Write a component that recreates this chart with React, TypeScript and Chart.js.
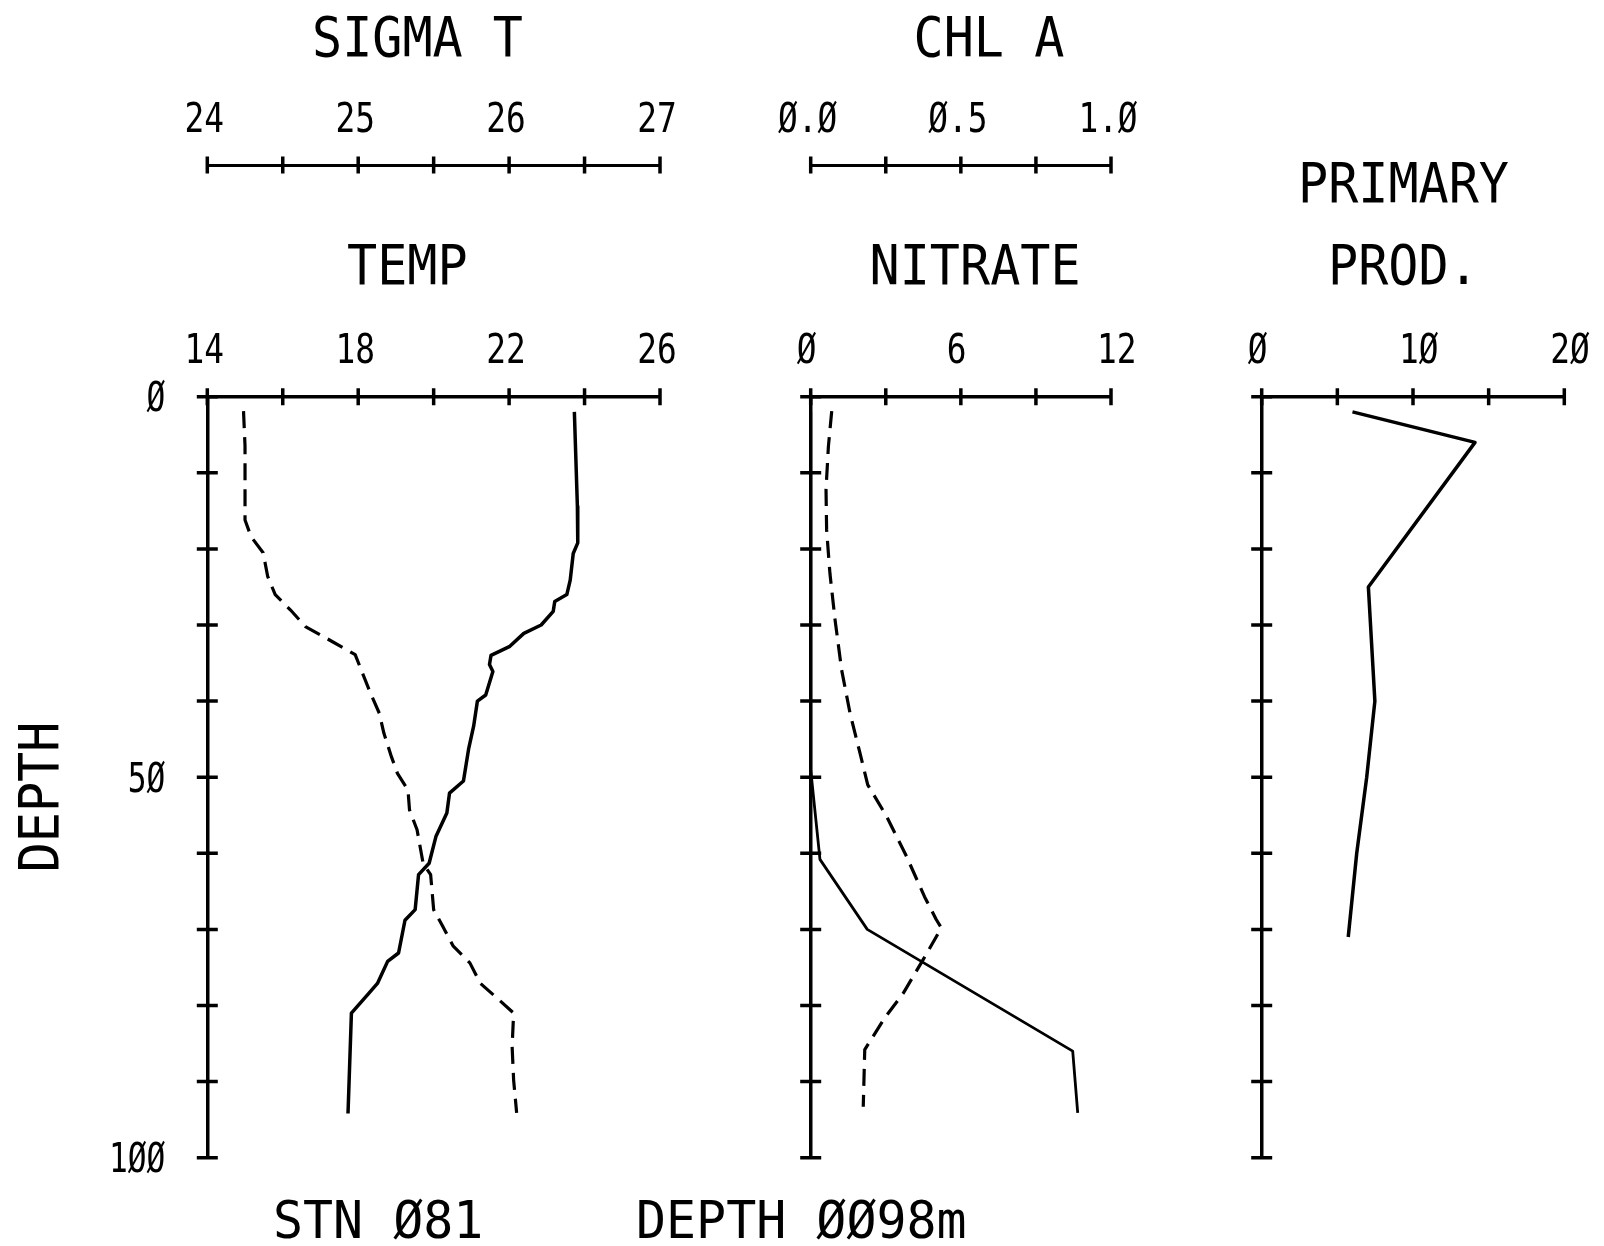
import React, { useEffect, useRef } from 'react';
import { Chart, registerables } from 'chart.js';

Chart.register(...registerables);

// ---------------- data (depth in m) ----------------
const tempDepths = [2, 14.4, 19.2, 20.6, 24.1, 26.0, 26.9, 28.2, 30.0, 31.1, 32.8, 34.0, 35.2, 36.1, 39.2, 40.0, 43.3, 46.2, 50.5, 52.1, 54.7, 57.8, 61.3, 62.8, 67.4, 68.8, 73.1, 74.2, 77.1, 78.4, 81.0, 94.2];
const tempValues = [23.73, 23.81, 23.82, 23.70, 23.62, 23.53, 23.21, 23.17, 22.85, 22.39, 22.02, 21.52, 21.48, 21.57, 21.38, 21.16, 21.06, 20.93, 20.79, 20.42, 20.35, 20.06, 19.88, 19.60, 19.51, 19.24, 19.07, 18.78, 18.51, 18.28, 17.82, 17.73];

const sigmaDepths = [1.9, 6.5, 16.2, 18.4, 20.5, 23.6, 26.0, 28.0, 30.2, 32.2, 33.9, 35.4, 38.9, 41.6, 44.2, 47.3, 49.5, 51.7, 54.3, 56.9, 61.3, 62.8, 67.4, 69.6, 72.2, 74.4, 77.1, 79.2, 81.0, 85.4, 89.8, 94.1];
const sigmaValues = [24.24, 24.25, 24.25, 24.29, 24.37, 24.40, 24.45, 24.55, 24.65, 24.83, 24.98, 25.01, 25.08, 25.14, 25.17, 25.22, 25.26, 25.33, 25.34, 25.39, 25.43, 25.48, 25.50, 25.56, 25.63, 25.74, 25.81, 25.93, 26.03, 26.02, 26.03, 26.05];

const chlDepths = [1.9, 6.5, 12.2, 17.5, 23.2, 29.3, 35.9, 41.6, 46.8, 51.0, 55.1, 60.4, 65.7, 68.7, 69.8, 74.0, 78.4, 81.6, 85.8, 93.3];
const chlValues = [0.070, 0.059, 0.051, 0.053, 0.064, 0.081, 0.103, 0.131, 0.164, 0.190, 0.252, 0.319, 0.379, 0.418, 0.435, 0.374, 0.308, 0.247, 0.180, 0.175];

const nitrateDepths = [2, 49, 50.3, 60.8, 70.0, 86.0, 94.1];
const nitrateValues = [0, 0, 0.04, 0.37, 2.26, 10.47, 10.67];

const ppDepths = [2, 6, 25, 40, 50, 60, 71];
const ppValues = [6.0, 14.1, 7.05, 7.48, 6.94, 6.28, 5.72];

// ---------------- tick labels ----------------
const depthTickLabels = [0, 50, 100];
const tempTickLabels = [14, 18, 22, 26];
const sigmaTickLabels = [24, 25, 26, 27];
const nitrateTickLabels = [0, 6, 12];
const chlTickLabels = [0, 0.5, 1.0];
const ppTickLabels = [0, 10, 20];

// ---------------- layout constants ----------------
const PAGE_W = 1604;
const PAGE_H = 1246;
const AREA_TOP = 396.7;
const AREA_BOTTOM = 1157.7;
const TOP_AXIS_Y = 165;
const FONT = '"DejaVu Sans Mono", "Liberation Mono", monospace';
const CAP = 0.729;
const AXIS_W = 3.5;

const slashZero = (s: string) => s.replace(/0/g, 'Ø');
const fmtInt = (v: number) => slashZero(String(v));
const fmtOne = (v: number) => slashZero(v.toFixed(1));

type TextItem = { text: string; x: number; y: number; size: number; sx: number; align: CanvasTextAlign; rotate?: number };
type AxisSpec = { min: number; max: number; step: number; labels: number[]; fmt: (v: number) => string; align: CanvasTextAlign; dx: number };
type Series = { depths: number[]; values: number[]; axis: 'x' | 'x2'; dashed: boolean; width: number };
type PanelSpec = {
  canvasLeft: number; canvasWidth: number; areaLeft: number; areaRight: number;
  main: AxisSpec; top?: AxisSpec; series: Series[]; depthLabels: boolean; texts: TextItem[];
};

function drawText(ctx: CanvasRenderingContext2D, t: TextItem, offX: number) {
  ctx.save();
  ctx.translate(t.x - offX, t.y);
  if (t.rotate) ctx.rotate(t.rotate);
  ctx.scale(t.sx, 1);
  ctx.font = `${t.size}px ${FONT}`;
  ctx.textAlign = t.align;
  ctx.textBaseline = 'alphabetic';
  ctx.fillStyle = '#000';
  ctx.fillText(t.text, 0, (t.size * CAP) / 2);
  ctx.restore();
}

function makeDecor(spec: PanelSpec) {
  return {
    id: 'decor',
    afterDraw(chart: any) {
      const ctx: CanvasRenderingContext2D = chart.ctx;
      ctx.save();
      ctx.strokeStyle = '#000';
      ctx.lineWidth = AXIS_W;
      ctx.lineCap = 'butt';
      // crossing tick marks on top axes
      for (const id of ['x', 'x2']) {
        const s = chart.scales[id];
        if (!s) continue;
        const y = s.bottom;
        ctx.beginPath();
        for (const t of s.ticks) {
          const px = s.getPixelForValue(t.value);
          ctx.moveTo(px, y - 8.5);
          ctx.lineTo(px, y + 8.5);
        }
        ctx.stroke();
      }
      // crossing tick marks on depth axis
      const ys = chart.scales.y;
      ctx.beginPath();
      for (const t of ys.ticks) {
        const py = ys.getPixelForValue(t.value);
        ctx.moveTo(ys.right - 10.5, py);
        ctx.lineTo(ys.right + 10.5, py);
      }
      ctx.stroke();
      ctx.restore();

      // tick labels
      const axes: [string, AxisSpec | undefined][] = [['x', spec.main], ['x2', spec.top]];
      for (const [id, ax] of axes) {
        if (!ax) continue;
        const s = chart.scales[id];
        for (const v of ax.labels) {
          drawText(ctx, { text: ax.fmt(v), x: s.getPixelForValue(v) + ax.dx, y: s.bottom - 48, size: 40, sx: 0.82, align: ax.align }, 0);
        }
      }
      if (spec.depthLabels) {
        for (const v of depthTickLabels) {
          drawText(ctx, { text: fmtInt(v), x: ys.right - 42, y: ys.getPixelForValue(v), size: 40, sx: 0.78, align: 'right' }, 0);
        }
      }
      // titles and captions
      for (const t of spec.texts) drawText(ctx, t, spec.canvasLeft);
    },
  };
}

function buildConfig(spec: PanelSpec): any {
  const border = { display: true, color: '#000', width: AXIS_W };
  const scales: any = {
    x: {
      type: 'linear', position: 'top', min: spec.main.min, max: spec.main.max, weight: 0,
      ticks: { display: false, stepSize: spec.main.step },
      grid: { display: false }, border,
      afterFit: (s: any) => { s.height = AREA_TOP - (spec.top ? TOP_AXIS_Y : 0); },
    },
    y: {
      type: 'linear', position: 'left', reverse: true, min: 0, max: 100,
      ticks: { display: false, stepSize: 10 },
      grid: { display: false }, border,
      afterFit: (s: any) => { s.width = spec.areaLeft - spec.canvasLeft; },
    },
  };
  if (spec.top) {
    scales.x2 = {
      type: 'linear', position: 'top', min: spec.top.min, max: spec.top.max, weight: 1,
      ticks: { display: false, stepSize: spec.top.step },
      grid: { display: false }, border: { ...border, width: 3 },
      afterFit: (s: any) => { s.height = TOP_AXIS_Y; },
    };
  }
  return {
    type: 'scatter',
    data: {
      datasets: spec.series.map((s) => ({
        data: s.depths.map((d, i) => ({ x: s.values[i], y: d })),
        xAxisID: s.axis,
        yAxisID: 'y',
        showLine: true,
        borderColor: '#000',
        backgroundColor: '#000',
        borderWidth: s.width,
        borderDash: s.dashed ? [17, 9] : [],
        borderJoinStyle: 'round',
        pointRadius: 0,
        pointHoverRadius: 0,
        tension: 0,
        fill: false,
      })),
    },
    options: {
      responsive: false,
      animation: false,
      events: [],
      layout: {
        padding: {
          left: 0,
          top: 0,
          right: spec.canvasLeft + spec.canvasWidth - spec.areaRight,
          bottom: PAGE_H - AREA_BOTTOM,
        },
      },
      plugins: { legend: { display: false }, tooltip: { enabled: false }, title: { display: false } },
      scales,
    },
    plugins: [makeDecor(spec)],
  };
}

const panels: PanelSpec[] = [
  {
    canvasLeft: 0, canvasWidth: 720, areaLeft: 207.3, areaRight: 660,
    main: { min: 14, max: 26, step: 2, labels: tempTickLabels, fmt: fmtInt, align: 'center', dx: -3 },
    top: { min: 24, max: 27, step: 0.5, labels: sigmaTickLabels, fmt: fmtInt, align: 'center', dx: -3 },
    series: [
      { depths: tempDepths, values: tempValues, axis: 'x', dashed: false, width: 3.5 },
      { depths: sigmaDepths, values: sigmaValues, axis: 'x2', dashed: true, width: 3.2 },
    ],
    depthLabels: true,
    texts: [
      { text: 'SIGMA T', x: 312, y: 36, size: 55, sx: 0.91, align: 'left' },
      { text: 'TEMP', x: 347, y: 264, size: 55, sx: 0.91, align: 'left' },
      { text: 'DEPTH', x: 38.4, y: 797, size: 55, sx: 0.91, align: 'center', rotate: -Math.PI / 2 },
      { text: 'STN Ø81', x: 273, y: 1219, size: 52, sx: 0.96, align: 'left' },
    ],
  },
  {
    canvasLeft: 600, canvasWidth: 620, areaLeft: 810.7, areaRight: 1111,
    main: { min: 0, max: 12, step: 3, labels: nitrateTickLabels, fmt: fmtInt, align: 'left', dx: -14 },
    top: { min: 0, max: 1, step: 0.25, labels: chlTickLabels, fmt: fmtOne, align: 'center', dx: -3 },
    series: [
      { depths: nitrateDepths, values: nitrateValues, axis: 'x', dashed: false, width: 2.8 },
      { depths: chlDepths, values: chlValues, axis: 'x2', dashed: true, width: 3.2 },
    ],
    depthLabels: false,
    texts: [
      { text: 'CHL A', x: 913.6, y: 36, size: 55, sx: 0.91, align: 'left' },
      { text: 'NITRATE', x: 869.6, y: 264, size: 55, sx: 0.91, align: 'left' },
      { text: 'DEPTH ØØ98m', x: 636, y: 1219, size: 52, sx: 0.96, align: 'left' },
    ],
  },
  {
    canvasLeft: 1180, canvasWidth: 424, areaLeft: 1261.7, areaRight: 1564.3,
    main: { min: 0, max: 20, step: 5, labels: ppTickLabels, fmt: fmtInt, align: 'left', dx: -14 },
    series: [{ depths: ppDepths, values: ppValues, axis: 'x', dashed: false, width: 3.5 }],
    depthLabels: false,
    texts: [
      { text: 'PRIMARY', x: 1298, y: 181.6, size: 55, sx: 0.91, align: 'left' },
      { text: 'PROD.', x: 1328, y: 264, size: 55, sx: 0.91, align: 'left' },
    ],
  },
];

function Panel({ spec }: { spec: PanelSpec }) {
  const ref = useRef<HTMLCanvasElement>(null);
  useEffect(() => {
    if (!ref.current) return;
    const chart = new Chart(ref.current, buildConfig(spec));
    return () => chart.destroy();
  }, [spec]);
  return (
    <canvas
      ref={ref}
      width={spec.canvasWidth}
      height={PAGE_H}
      style={{ position: 'absolute', left: spec.canvasLeft, top: 0, width: spec.canvasWidth, height: PAGE_H }}
    />
  );
}

export default function App() {
  return (
    <div style={{ position: 'absolute', left: 0, top: 0, width: PAGE_W, height: PAGE_H, background: '#fff', overflow: 'hidden' }}>
      {panels.map((p, i) => (
        <Panel key={i} spec={p} />
      ))}
    </div>
  );
}
